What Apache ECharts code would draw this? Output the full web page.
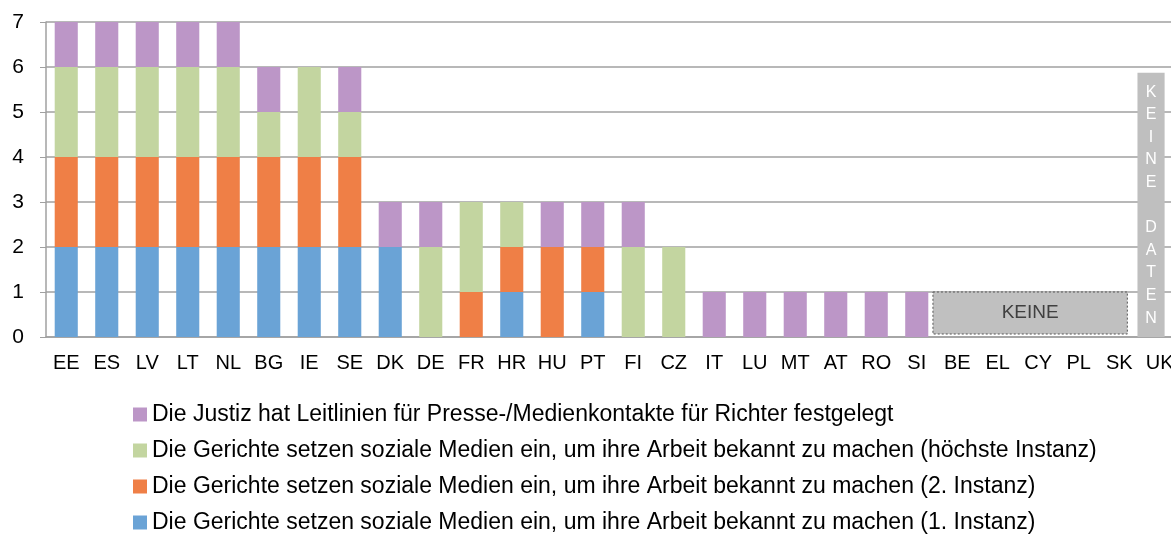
<!DOCTYPE html>
<html>
<head>
<meta charset="utf-8">
<script src="https://cdn.jsdelivr.net/npm/echarts@6/dist/echarts.min.js"></script>
<style>
  html, body { margin: 0; padding: 0; background: #fff; }
  #main { width: 1171px; height: 534px; }
</style>
</head>
<body>
<div id="main"></div>
<script>
// Länder
var categories = ['EE', 'ES', 'LV', 'LT', 'NL', 'BG', 'IE', 'SE', 'DK', 'DE', 'FR', 'HR', 'HU', 'PT',
  'FI', 'CZ', 'IT', 'LU', 'MT', 'AT', 'RO', 'SI', 'BE', 'EL', 'CY', 'PL', 'SK', 'UK'];

// Werte je Reihe (von unten nach oben gestapelt)
var ersteInstanz = [2, 2, 2, 2, 2, 2, 2, 2, 2, 0, 0, 1, 0, 1, 0, 0, 0, 0, 0, 0, 0, 0, 0, 0, 0, 0, 0, 0];
var zweiteInstanz = [2, 2, 2, 2, 2, 2, 2, 2, 0, 0, 1, 1, 2, 1, 0, 0, 0, 0, 0, 0, 0, 0, 0, 0, 0, 0, 0, 0];
var hoechsteInstanz = [2, 2, 2, 2, 2, 1, 2, 1, 0, 2, 2, 1, 0, 0, 2, 2, 0, 0, 0, 0, 0, 0, 0, 0, 0, 0, 0, 0];
var leitlinien = [1, 1, 1, 1, 1, 1, 0, 1, 1, 1, 0, 0, 1, 1, 1, 0, 1, 1, 1, 1, 1, 1, 0, 0, 0, 0, 0, 0];

// "Keine Daten"-Felder: [erste Kategorie, letzte Kategorie, Höhe, Text]
var keineBox = [[22, 26, 1, 'KEINE']];
var keineDaten = [[27, 27, 5.87, 'K\nE\nI\nN\nE\n\nD\nA\nT\nE\nN']];

var yTicks = [0, 1, 2, 3, 4, 5, 6, 7];

var names = [
  'Die Gerichte setzen soziale Medien ein, um ihre Arbeit bekannt zu machen (1. Instanz)',
  'Die Gerichte setzen soziale Medien ein, um ihre Arbeit bekannt zu machen (2. Instanz)',
  'Die Gerichte setzen soziale Medien ein, um ihre Arbeit bekannt zu machen (höchste Instanz)',
  'Die Justiz hat Leitlinien für Presse-/Medienkontakte für Richter festgelegt'
];
var colors = ['#6aa3d6', '#ef7f46', '#c3d5a0', '#bc96c7'];

var myChart = echarts.init(document.getElementById('main'));

function bar(name, data, color) {
  return {
    name: name,
    type: 'bar',
    stack: 'a',
    data: data,
    barWidth: '57%',
    itemStyle: { color: color },
    emphasis: { disabled: true }
  };
}

function renderBox(params, api) {
  var band = api.size([1, 0])[0];
  var p0 = api.coord([api.value(0), 0]);
  var p1 = api.coord([api.value(1), api.value(2)]);
  var x0 = p0[0] - band * 0.6;
  var x1 = p1[0] + band * 0.2;
  return {
    type: 'group',
    children: [{
      type: 'rect',
      shape: { x: x0, y: p1[1], width: x1 - x0, height: p0[1] - p1[1] - 3 },
      style: { fill: '#c0c0c0', stroke: '#555', lineWidth: 1, lineDash: [2, 2] }
    }, {
      type: 'text',
      style: {
        text: api.value(3), x: (x0 + x1) / 2, y: (p0[1] + p1[1]) / 2 - 2,
        align: 'center', verticalAlign: 'middle',
        fill: '#404040', font: '19px "Liberation Sans", Arial, sans-serif'
      }
    }]
  };
}

function renderUK(params, api) {
  var band = api.size([1, 0])[0];
  var p0 = api.coord([api.value(0), 0]);
  var p1 = api.coord([api.value(0), api.value(2)]);
  var x0 = p0[0] - band * 0.55;
  var w = band * 0.67;
  return {
    type: 'group',
    children: [{
      type: 'rect',
      shape: { x: x0, y: p1[1], width: w, height: p0[1] - p1[1] },
      style: { fill: '#bfbfbf' }
    }, {
      type: 'text',
      style: {
        text: api.value(3), x: x0 + w / 2, y: p1[1] + 8,
        align: 'center', verticalAlign: 'top', lineHeight: 22.6,
        fill: '#fff', font: '16px "Liberation Sans", Arial, sans-serif'
      }
    }]
  };
}

var option = {
  animation: false,
  textStyle: { fontFamily: '"Liberation Sans", Arial, sans-serif' },
  grid: { left: 46, top: 22, bottom: 197, width: 1134, containLabel: false, outerBoundsMode: 'none' },
  legend: {
    orient: 'vertical',
    left: 128,
    top: 398,
    height: 200,
    itemWidth: 14,
    itemHeight: 14,
    itemGap: 13,
    icon: 'rect',
    data: [names[3], names[2], names[1], names[0]],
    textStyle: { fontSize: 23, color: '#000' }
  },
  xAxis: {
    type: 'category',
    data: categories,
    axisLine: { lineStyle: { color: '#a0a0a0', width: 1.5 } },
    axisTick: { length: 5, lineStyle: { color: '#a0a0a0' } },
    axisLabel: { fontSize: 20, color: '#000', margin: 16, interval: 0 }
  },
  yAxis: {
    type: 'value',
    min: yTicks[0],
    max: yTicks[yTicks.length - 1],
    interval: 1,
    axisLine: { show: true, lineStyle: { color: '#a0a0a0', width: 1.5 } },
    axisTick: { show: true, length: 6, lineStyle: { color: '#a0a0a0' } },
    axisLabel: { fontSize: 21, color: '#000', margin: 22 },
    splitLine: { lineStyle: { color: '#a0a0a0', width: 1.5 } }
  },
  series: [
    bar(names[0], ersteInstanz, colors[0]),
    bar(names[1], zweiteInstanz, colors[1]),
    bar(names[2], hoechsteInstanz, colors[2]),
    bar(names[3], leitlinien, colors[3]),
    { type: 'custom', renderItem: renderBox, data: keineBox, encode: { x: [0, 1], y: 2 }, silent: true },
    { type: 'custom', renderItem: renderUK, data: keineDaten, encode: { x: [0, 1], y: 2 }, silent: true }
  ]
};

myChart.setOption(option);
</script>
</body>
</html>
